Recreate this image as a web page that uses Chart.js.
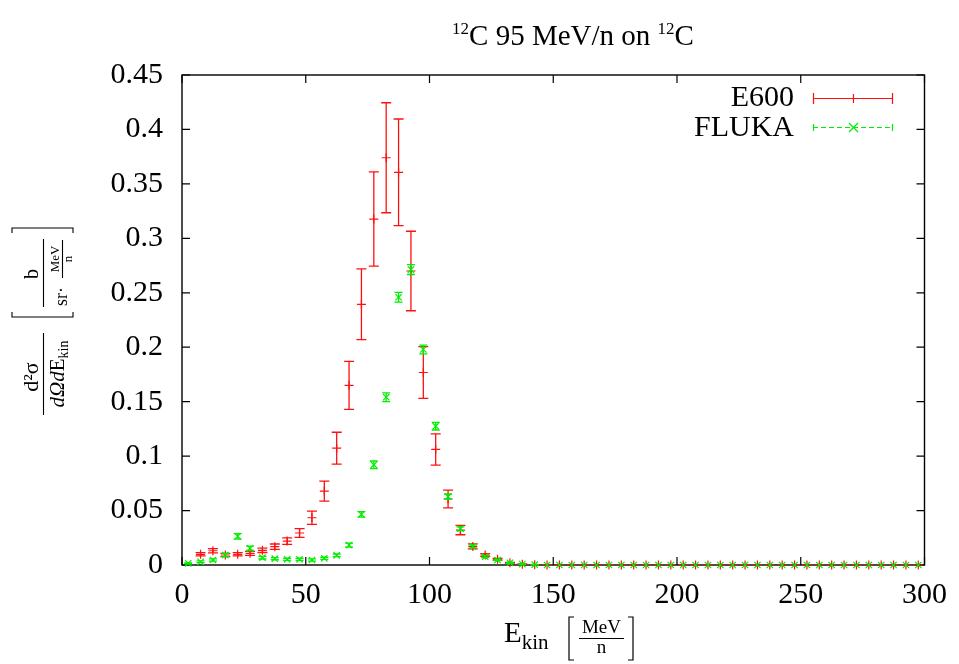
<!DOCTYPE html>
<html>
<head>
<meta charset="utf-8">
<script src="https://cdn.jsdelivr.net/npm/chart.js@4.4.1/dist/chart.umd.min.js"></script>
<style>
  html, body { margin: 0; padding: 0; background: #fff; }
  #wrap { width: 959px; height: 664px; }
</style>
</head>
<body>
<div id="wrap"><canvas id="chart" width="959" height="664"></canvas></div>
<script>
/* ---------- data ---------- */

// bin centres [MeV/n]
const energy = [
  2.5, 7.5, 12.5, 17.5, 22.5, 27.5, 32.5, 37.5, 42.5, 47.5,
  52.5, 57.5, 62.5, 67.5, 72.5, 77.5, 82.5, 87.5, 92.5, 97.5,
  102.5, 107.5, 112.5, 117.5, 122.5, 127.5, 132.5, 137.5, 142.5, 147.5,
  152.5, 157.5, 162.5, 167.5, 172.5, 177.5, 182.5, 187.5, 192.5, 197.5,
  202.5, 207.5, 212.5, 217.5, 222.5, 227.5, 232.5, 237.5, 242.5, 247.5,
  252.5, 257.5, 262.5, 267.5, 272.5, 277.5, 282.5, 287.5, 292.5, 297.5
];

// E600 measurement (no point in the first bin)
const e600 = [
  null, 0.0098, 0.0131, 0.0092, 0.0098, 0.0107, 0.0135, 0.0168, 0.0220, 0.0294,
  0.0434, 0.0679, 0.1073, 0.1650, 0.2394, 0.3177, 0.3740, 0.3606, 0.2700, 0.1768,
  0.1061, 0.0606, 0.0321, 0.0171, 0.0092, 0.0052, 0.0021, 0.0008, 0.0002, 0,
  0, 0, 0, 0, 0, 0, 0, 0, 0, 0,
  0, 0, 0, 0, 0, 0, 0, 0, 0, 0,
  0, 0, 0, 0, 0, 0, 0, 0, 0, 0
];
const e600Err = [
  null, 0.0015, 0.0020, 0.0015, 0.0015, 0.0018, 0.0020, 0.0025, 0.0030, 0.0040,
  0.0060, 0.0092, 0.0146, 0.0220, 0.0325, 0.0433, 0.0505, 0.0490, 0.0365, 0.0238,
  0.0143, 0.0082, 0.0043, 0.0023, 0.0013, 0.0008, 0.0004, 0.0002, 0, 0,
  0, 0, 0, 0, 0, 0, 0, 0, 0, 0,
  0, 0, 0, 0, 0, 0, 0, 0, 0, 0,
  0, 0, 0, 0, 0, 0, 0, 0, 0, 0
];

// FLUKA simulation
const fluka = [
  0.0015, 0.0030, 0.0046, 0.0092, 0.0263, 0.0153, 0.0067, 0.0058, 0.0052, 0.0052,
  0.0046, 0.0061, 0.0089, 0.0183, 0.0465, 0.0920, 0.1541, 0.2459, 0.2713, 0.1979,
  0.1275, 0.0627, 0.0333, 0.0171, 0.0076, 0.0046, 0.0020, 0.0008, 0.0003, 0,
  0, 0, 0, 0, 0, 0, 0, 0, 0, 0,
  0, 0, 0, 0, 0, 0, 0, 0, 0, 0,
  0, 0, 0, 0, 0, 0, 0, 0, 0, 0
];
const flukaErr = [
  0.0005, 0.0008, 0.0010, 0.0015, 0.0025, 0.0020, 0.0012, 0.0010, 0.0010, 0.0010,
  0.0010, 0.0010, 0.0012, 0.0018, 0.0025, 0.0035, 0.0040, 0.0045, 0.0045, 0.0040,
  0.0035, 0.0025, 0.0018, 0.0013, 0.0008, 0.0006, 0.0004, 0.0002, 0.0001, 0,
  0, 0, 0, 0, 0, 0, 0, 0, 0, 0,
  0, 0, 0, 0, 0, 0, 0, 0, 0, 0,
  0, 0, 0, 0, 0, 0, 0, 0, 0, 0
];

const xTicks = [0, 50, 100, 150, 200, 250, 300];
const yTicks = [0, 0.05, 0.1, 0.15, 0.2, 0.25, 0.3, 0.35, 0.4, 0.45];

const seriesNames = ["E600", "FLUKA"];
const titleText = "C 95 MeV/n on ";

/* ---------- colours / fonts ---------- */

const RED = "#ff1010";
const GREEN = "#00ee00";
const FONT = "'Liberation Serif', 'DejaVu Serif', serif";

// points + matching errors, skipping empty bins
function toPoints(vals, errs) {
  const pts = [];
  energy.forEach((e, i) => {
    if (vals[i] === null) return;
    pts.push({ x: e, y: vals[i], err: errs[i] });
  });
  return pts;
}

/* ---------- plugins ---------- */

// error bars, drawn just before each dataset's markers
const errorBars = {
  id: "errorBars",
  beforeDatasetDraw(chart, args) {
    const ds = chart.data.datasets[args.index];
    const { ctx, scales: { x, y } } = chart;
    ctx.save();
    ctx.strokeStyle = ds.borderColor;
    ctx.lineWidth = 1.3;
    ctx.beginPath();
    ds.data.forEach(p => {
      if (!p.err) return;
      const px = x.getPixelForValue(p.x);
      const top = y.getPixelForValue(p.y + p.err);
      const bot = y.getPixelForValue(p.y - p.err);
      const c = ds.capHalf;
      ctx.moveTo(px, top); ctx.lineTo(px, bot);
      ctx.moveTo(px - c, top); ctx.lineTo(px + c, top);
      ctx.moveTo(px - c, bot); ctx.lineTo(px + c, bot);
    });
    ctx.stroke();
    ctx.restore();
  }
};

// gnuplot style box with inward, mirrored ticks
const frame = {
  id: "frame",
  beforeDatasetsDraw(chart) {
    const { ctx, chartArea: a, scales: { x, y } } = chart;
    ctx.save();
    ctx.strokeStyle = "#000";
    ctx.lineWidth = 1.4;
    ctx.strokeRect(a.left, a.top, a.right - a.left, a.bottom - a.top);
    ctx.lineWidth = 1.2;
    ctx.beginPath();
    xTicks.forEach(v => {
      const px = x.getPixelForValue(v);
      ctx.moveTo(px, a.bottom); ctx.lineTo(px, a.bottom - 8);
      ctx.moveTo(px, a.top); ctx.lineTo(px, a.top + 8);
    });
    yTicks.forEach(v => {
      const py = y.getPixelForValue(v);
      ctx.moveTo(a.left, py); ctx.lineTo(a.left + 8, py);
      ctx.moveTo(a.right, py); ctx.lineTo(a.right - 8, py);
    });
    ctx.stroke();
    ctx.restore();
  }
};

function drawCross(ctx, cx, cy, r, rot) {
  ctx.beginPath();
  if (rot) {
    ctx.moveTo(cx - r, cy - r); ctx.lineTo(cx + r, cy + r);
    ctx.moveTo(cx - r, cy + r); ctx.lineTo(cx + r, cy - r);
  } else {
    ctx.moveTo(cx - r, cy); ctx.lineTo(cx + r, cy);
    ctx.moveTo(cx, cy - r); ctx.lineTo(cx, cy + r);
  }
  ctx.stroke();
}

// title, key and the two axis labels with their fractions
const labels = {
  id: "labels",
  afterDraw(chart) {
    const { ctx } = chart;
    ctx.save();
    ctx.fillStyle = "#000";
    ctx.strokeStyle = "#000";
    ctx.textBaseline = "alphabetic";

    // title: 12C 95 MeV/n on 12C
    const big = "29px " + FONT;
    const sup = "17px " + FONT;
    ctx.font = sup; const wSup = ctx.measureText("12").width;
    ctx.font = big;
    const wMid = ctx.measureText(titleText).width;
    const wC = ctx.measureText("C").width;
    const total = wSup + wMid + wSup + wC;
    let tx = 573 - total / 2;
    const tb = 45;
    ctx.textAlign = "left";
    ctx.font = sup; ctx.fillText("12", tx, tb - 11); tx += wSup;
    ctx.font = big; ctx.fillText(titleText, tx, tb); tx += wMid;
    ctx.font = sup; ctx.fillText("12", tx, tb - 11); tx += wSup;
    ctx.font = big; ctx.fillText("C", tx, tb);

    // key
    ctx.textAlign = "right";
    ctx.font = "30px " + FONT;
    ctx.fillText(seriesNames[0], 794, 106);
    ctx.fillText(seriesNames[1], 794, 136);
    ctx.lineWidth = 1.2;
    ctx.strokeStyle = RED;
    ctx.beginPath();
    ctx.moveTo(813, 98.5); ctx.lineTo(893, 98.5);
    ctx.moveTo(813.5, 93); ctx.lineTo(813.5, 104);
    ctx.moveTo(892.5, 93); ctx.lineTo(892.5, 104);
    ctx.stroke();
    drawCross(ctx, 853.5, 98.5, 4.5, false);
    ctx.strokeStyle = GREEN;
    ctx.setLineDash([5, 3]);
    ctx.beginPath();
    ctx.moveTo(813, 127.5); ctx.lineTo(893, 127.5);
    ctx.stroke();
    ctx.setLineDash([]);
    ctx.beginPath();
    ctx.moveTo(813.5, 124); ctx.lineTo(813.5, 131);
    ctx.moveTo(892.5, 124); ctx.lineTo(892.5, 131);
    ctx.stroke();
    drawCross(ctx, 853.5, 127.5, 4.5, true);

    // x axis label: E_kin [MeV/n]
    ctx.strokeStyle = "#000";
    ctx.fillStyle = "#000";
    ctx.textAlign = "left";
    ctx.font = "29px " + FONT;
    ctx.fillText("E", 504, 642);
    const ex = 504 + ctx.measureText("E").width;
    ctx.font = "21px " + FONT;
    ctx.fillText("kin", ex, 649);
    ctx.lineWidth = 1.2;
    ctx.beginPath();
    ctx.moveTo(574, 617); ctx.lineTo(569, 617); ctx.lineTo(569, 660); ctx.lineTo(574, 660);
    ctx.moveTo(628, 617); ctx.lineTo(633, 617); ctx.lineTo(633, 660); ctx.lineTo(628, 660);
    ctx.moveTo(579, 638.5); ctx.lineTo(624, 638.5);
    ctx.stroke();
    ctx.textAlign = "center";
    ctx.font = "19px " + FONT;
    ctx.fillText("MeV", 601.5, 633);
    ctx.fillText("n", 601.5, 653);

    // y axis label, rotated: d2sigma/dOmega dE_kin [b / (sr MeV/n)]
    ctx.translate(43, 322);
    ctx.rotate(-Math.PI / 2);
    ctx.lineWidth = 1.1;
    // first fraction
    ctx.beginPath();
    ctx.moveTo(-93, 0.5); ctx.lineTo(-11, 0.5);
    ctx.stroke();
    ctx.textAlign = "center";
    ctx.font = "22px " + FONT;
    ctx.fillText("d²σ", -55, -5);
    ctx.textAlign = "left";
    ctx.font = "italic 21px " + FONT;
    const wIt = ctx.measureText("dΩd").width;
    ctx.font = "21px " + FONT;
    const wE = ctx.measureText("E").width;
    ctx.font = "14px " + FONT;
    const wK = ctx.measureText("kin").width;
    let u = -52 - (wIt + wE + wK) / 2;
    ctx.font = "italic 21px " + FONT; ctx.fillText("dΩd", u, 21); u += wIt;
    ctx.font = "21px " + FONT; ctx.fillText("E", u, 21); u += wE;
    ctx.font = "14px " + FONT; ctx.fillText("kin", u, 25);
    // brackets
    ctx.beginPath();
    ctx.moveTo(10, -31); ctx.lineTo(5, -31); ctx.lineTo(5, 30); ctx.lineTo(10, 30);
    ctx.moveTo(89, -31); ctx.lineTo(94, -31); ctx.lineTo(94, 30); ctx.lineTo(89, 30);
    // inner fraction lines
    ctx.moveTo(15, 0.5); ctx.lineTo(83, 0.5);
    ctx.moveTo(44, 19.5); ctx.lineTo(82, 19.5);
    ctx.stroke();
    ctx.textAlign = "center";
    ctx.font = "20px " + FONT;
    ctx.fillText("b", 48, -5);
    ctx.textAlign = "left";
    ctx.font = "18px " + FONT;
    ctx.fillText("sr·", 16, 24);
    ctx.textAlign = "center";
    ctx.font = "13px " + FONT;
    ctx.fillText("MeV", 63, 16);
    ctx.fillText("n", 63, 29);
    ctx.restore();
  }
};

/* ---------- chart ---------- */

new Chart(document.getElementById("chart"), {
  type: "scatter",
  data: {
    datasets: [
      {
        label: seriesNames[1],
        data: toPoints(fluka, flukaErr),
        capHalf: 4,
        borderColor: GREEN,
        backgroundColor: GREEN,
        pointStyle: "crossRot",
        pointRadius: 4.5,
        borderWidth: 1.2,
        order: 0,
        clip: false
      },
      {
        label: seriesNames[0],
        data: toPoints(e600, e600Err),
        capHalf: 5,
        borderColor: RED,
        backgroundColor: RED,
        pointStyle: "cross",
        pointRadius: 4.5,
        borderWidth: 1.2,
        order: 1,
        clip: false
      }
    ]
  },
  options: {
    responsive: false,
    animation: false,
    events: [],
    layout: { padding: { top: 75, right: 32, bottom: 0, left: 0 } },
    plugins: {
      legend: { display: false },
      tooltip: { enabled: false },
      title: { display: false }
    },
    scales: {
      x: {
        type: "linear",
        min: 0,
        max: 300,
        afterBuildTicks: s => { s.ticks = xTicks.map(v => ({ value: v })); },
        afterFit: s => { s.height = 99; },
        grid: { display: false, drawTicks: false },
        border: { display: false },
        ticks: {
          padding: 12,
          color: "#000",
          font: { family: FONT, size: 30 },
          maxRotation: 0
        }
      },
      y: {
        type: "linear",
        min: 0,
        max: 0.45,
        afterBuildTicks: s => { s.ticks = yTicks.map(v => ({ value: v })); },
        afterFit: s => { s.width = 182; },
        grid: { display: false, drawTicks: false },
        border: { display: false },
        ticks: {
          padding: 19,
          color: "#000",
          font: { family: FONT, size: 30 },
          callback: v => String(+v.toFixed(2))
        }
      }
    }
  },
  plugins: [frame, errorBars, labels]
});
</script>
</body>
</html>
